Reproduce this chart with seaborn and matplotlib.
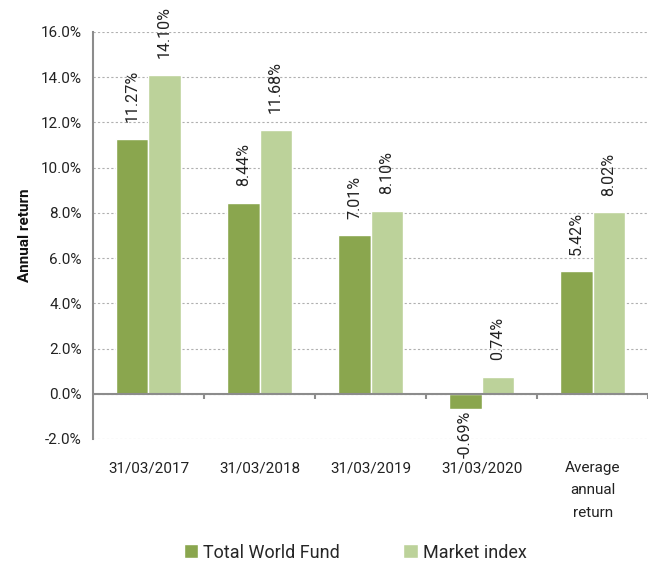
import matplotlib
matplotlib.use("Agg")
import matplotlib.pyplot as plt
import seaborn as sns
import pandas as pd
import numpy as np
from matplotlib.ticker import FuncFormatter, MultipleLocator

categories = ["31/03/2017", "31/03/2018", "31/03/2019", "31/03/2020", "Average\nannual\nreturn"]
fund = [11.27, 8.44, 7.01, -0.69, 5.42]
index = [14.10, 11.68, 8.10, 0.74, 8.02]
series = ["Total World Fund", "Market index"]
colors = ["#8aa64e", "#bcd29a"]

df = pd.DataFrame({
    "category": categories * 2,
    "value": fund + index,
    "series": [series[0]] * len(categories) + [series[1]] * len(categories),
})

sns.set_style("white")
plt.rcParams["font.family"] = ["Roboto", "DejaVu Sans"]

fig = plt.figure(figsize=(6.52, 5.61), dpi=100)
ax = fig.add_axes([0.1426, 0.2175, 0.8514, 0.7255])

sns.barplot(data=df, x="category", y="value", hue="series", order=categories,
            hue_order=series, palette=colors, width=0.58, gap=0, saturation=1,
            ax=ax, legend=True)

for cont in ax.containers:
    vals = cont.datavalues
    ax.bar_label(cont, labels=[f"{v:.2f}%" if v >= 0 else "" for v in vals],
                 rotation=90, padding=12, fontsize=11.5, color="#222222")
    ax.bar_label(cont, labels=[f"{v:.2f}%" if v < 0 else "" for v in vals],
                 rotation=90, padding=1, fontsize=11.5, color="#222222")

ax.set_ylim(-2, 16)
ax.set_xlim(-0.5, len(categories) - 0.5)
ax.yaxis.set_major_locator(MultipleLocator(2))
ax.yaxis.set_major_formatter(FuncFormatter(lambda v, p: f"{v:.1f}%"))
ax.grid(axis="y", color="#b0b0b0", linestyle=(0, (2, 2)), linewidth=0.8)
ax.set_axisbelow(True)

for s in ["top", "right", "bottom"]:
    ax.spines[s].set_visible(False)
ax.spines["left"].set_color("#8c8c8c")
ax.spines["left"].set_linewidth(1.5)

ax.tick_params(axis="y", direction="out", length=5, width=1.2, color="#8c8c8c",
               labelsize=11, labelcolor="#222222", pad=3)
ax.tick_params(axis="x", length=0, labelsize=11, labelcolor="#222222", pad=16)
for lbl in ax.get_xticklabels():
    lbl.set_linespacing(1.75)

# zero line with category separator ticks
ax.axhline(0, color="#8c8c8c", linewidth=1.5, zorder=3)
bounds = np.arange(len(categories) + 1) - 0.5
ax.vlines(bounds[1:], -0.22, 0, color="#8c8c8c", linewidth=1.5, zorder=3)

ax.set_xlabel("")
ax.set_ylabel("Annual return", fontsize=11, fontweight="bold", color="#111111", labelpad=6)

leg = ax.get_legend()
if leg is not None:
    leg.remove()
handles, labels = ax.get_legend_handles_labels()
fig.legend(handles[:2], labels[:2], loc="center", bbox_to_anchor=(0.545, 0.015),
           ncol=2, frameon=False, fontsize=13, handlelength=0.8, handleheight=0.8,
           handletextpad=0.3, columnspacing=3.5)

fig.savefig("out.png", dpi=100)
